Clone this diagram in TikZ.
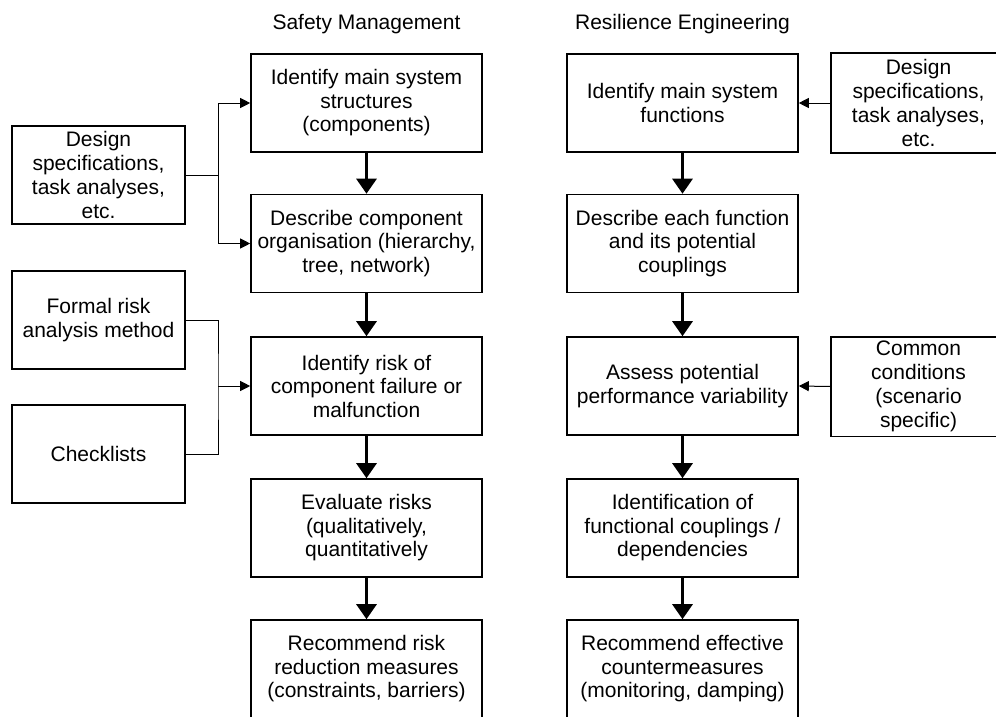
\documentclass[tikz,border=0pt]{standalone}
\usepackage{fontspec}
\setmainfont{Liberation Sans}
\usetikzlibrary{arrows.meta}

\tikzset{
  stepbox/.style={draw, line width=1.6pt, minimum width=231pt, minimum height=98pt,
    align=center, inner sep=2pt, font=\fontsize{21}{23.5}\selectfont},
  inputbox/.style={draw, line width=1.6pt, minimum width=173pt, minimum height=98pt,
    align=center, inner sep=2pt, font=\fontsize{21}{24}\selectfont},
  inputtext/.style={inputbox, draw=none},
  frame/.style={line width=1.6pt},
  heading/.style={font=\fontsize{21}{24}\selectfont, inner sep=0pt},
  flow/.style={line width=3pt, -{Triangle[length=15pt,width=20pt]}},
  feed/.style={line width=1pt, -{Triangle[length=10pt,width=10pt]}},
  link/.style={line width=1pt}
}

\begin{document}
\begin{tikzpicture}[x=1pt, y=-1pt]
\useasboundingbox (0,0) rectangle (996,716);

% column headings
\node[heading] (hsm) at (366.5,24) {Safety Management};
\node[heading] (hre) at (682.5,24) {Resilience Engineering};

% safety management steps
\node[stepbox] (s1) at (366.5,103)   {Identify main system\\structures\\(components)};
\node[stepbox] (s2) at (366.5,243.5) {Describe component\\organisation (hierarchy,\\tree, network)};
\node[stepbox] (s3) at (366.5,386)   {Identify risk of\\component failure or\\malfunction};
\node[stepbox] (s4) at (366.5,528)   {Evaluate risks\\(qualitatively,\\quantitatively};
\node[stepbox] (s5) at (366.5,669)   {Recommend risk\\reduction measures\\(constraints, barriers)};

% resilience engineering steps
\node[stepbox] (r1) at (682.5,103)   {Identify main system\\functions};
\node[stepbox] (r2) at (682.5,243.5) {Describe each function\\and its potential\\couplings};
\node[stepbox] (r3) at (682.5,386)   {Assess potential\\performance variability};
\node[stepbox] (r4) at (682.5,528)   {Identification of\\functional couplings /\\dependencies};
\node[stepbox] (r5) at (682.5,669)   {Recommend effective\\countermeasures\\(monitoring, damping)};

% inputs on the left
\node[inputbox] (dl) at (98.5,175) {Design\\specifications,\\task analyses,\\etc.};
\node[inputbox] (fr) at (98.5,320) {Formal risk\\analysis method};
\node[inputbox] (ck) at (98.5,454) {Checklists};

% inputs on the right: their frames run on past the right edge
\node[inputtext] (dr) at (918.5,103)   {Design\\specifications,\\task analyses,\\etc.};
\node[inputtext] (cc) at (918.5,386.5) {Common\\conditions\\(scenario\\specific)};
\draw[frame] ([xshift=30pt]dr.north east) -- (dr.north west) -- (dr.south west) -- ([xshift=30pt]dr.south east);
\draw[frame] ([xshift=30pt]cc.north east) -- (cc.north west) -- (cc.south west) -- ([xshift=30pt]cc.south east);

% main flow
\draw[flow] (s1) -- (s2);
\draw[flow] (s2) -- (s3);
\draw[flow] (s3) -- (s4);
\draw[flow] (s4) -- (s5);
\draw[flow] (r1) -- (r2);
\draw[flow] (r2) -- (r3);
\draw[flow] (r3) -- (r4);
\draw[flow] (r4) -- (r5);

% left feeds
\coordinate (j1) at (218,175);
\coordinate (j2) at (218,386);
\draw[link] (dl.east) -- (j1);
\draw[feed] (j1) |- (s1.west);
\draw[feed] (j1) |- (s2.west);
\draw[link] (fr.east) -| (j2) |- (ck.east);
\draw[feed] (j2) -- (s3.west);

% right feeds
\draw[feed] (dr.west) -- (r1.east);
\draw[feed] (cc.west) -- (r3.east);
\end{tikzpicture}
\end{document}
